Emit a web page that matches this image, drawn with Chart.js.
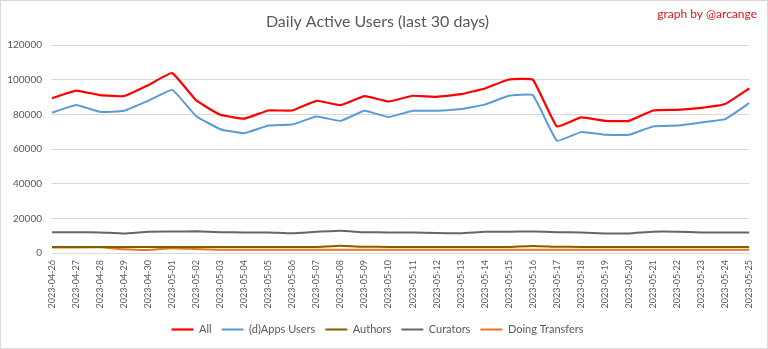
<!DOCTYPE html>
<html>
<head>
<meta charset="utf-8">
<script src="https://cdn.jsdelivr.net/npm/chart.js@4/dist/chart.umd.min.js"></script>
<style>
  html, body { margin: 0; padding: 0; background: #fff; }
  #wrap { position: relative; width: 766px; height: 347px; border: 1px solid #d9d9d9; }
</style>
</head>
<body>
<div id="wrap"><canvas id="Graph" width="766" height="347"></canvas></div>
<script>
let canvas = document.getElementById("Graph");

const days = [
  '2023-04-26', '2023-04-27', '2023-04-28', '2023-04-29', '2023-04-30', '2023-05-01',
  '2023-05-02', '2023-05-03', '2023-05-04', '2023-05-05', '2023-05-06', '2023-05-07',
  '2023-05-08', '2023-05-09', '2023-05-10', '2023-05-11', '2023-05-12', '2023-05-13',
  '2023-05-14', '2023-05-15', '2023-05-16', '2023-05-17', '2023-05-18', '2023-05-19',
  '2023-05-20', '2023-05-21', '2023-05-22', '2023-05-23', '2023-05-24', '2023-05-25'
];

const allUsers = [89400, 93800, 91200, 90600, 96900, 103900, 88100, 79800, 77600, 82300,
  82300, 87900, 85400, 90600, 87500, 90800, 90200, 91700, 95000, 100200,
  100100, 73100, 78300, 76300, 76300, 82300, 82700, 83800, 86000, 95000];
const appsUsers = [81000, 85400, 81500, 82100, 87900, 94200, 79000, 71500, 69200, 73600,
  74200, 78800, 76300, 82100, 78500, 82100, 82100, 83100, 85700, 90800,
  91200, 64800, 69800, 68300, 68300, 73100, 73600, 75400, 77300, 86600];
const authors = [3500, 3500, 3500, 3400, 3400, 3500, 3500, 3500, 3500, 3500,
  3500, 3500, 4200, 3600, 3500, 3500, 3500, 3500, 3500, 3500,
  4100, 3600, 3500, 3500, 3500, 3500, 3500, 3500, 3500, 3500];
const curators = [12000, 12000, 11900, 11300, 12300, 12400, 12500, 12000, 11900, 11900,
  11400, 12200, 12800, 12000, 11900, 11900, 11500, 11400, 12200, 12300,
  12400, 12000, 11900, 11300, 11300, 12300, 12300, 11900, 11900, 11900];
const transfers = [3200, 3200, 3300, 2100, 1700, 2800, 2300, 1900, 1900, 1900,
  1900, 1900, 1900, 1900, 1900, 1900, 1900, 1900, 1900, 1900,
  1900, 1900, 1900, 1900, 1900, 1900, 1900, 1900, 1900, 1900];

const yTicks = [0, 20000, 40000, 60000, 80000, 100000, 120000];

const textColor = '#595959';

// "graph by" signature, top right
const signature = {
  id: 'signature',
  afterDraw(chart) {
    const c = chart.ctx;
    c.save();
    c.font = '12px Lato';
    c.fillStyle = '#d0191e';
    c.textAlign = 'right';
    c.textBaseline = 'middle';
    c.fillText('graph by @arcange', 756, 13);
    c.restore();
  }
};

function line(label, values, color, width) {
  return {
    label: label,
    data: values,
    borderColor: color,
    backgroundColor: color,
    borderWidth: width,
    pointRadius: 0,
    tension: 0.1
  };
}

const config = {
  type: 'line',
  data: {
    labels: days,
    datasets: [
      line('All', allUsers, '#ff0000', 2.2),
      line('(d)Apps Users', appsUsers, '#5b9bd5', 2),
      line('Authors', authors, '#7f6000', 2),
      line('Curators', curators, '#666666', 2),
      line('Doing Transfers', transfers, '#f0711c', 2)
    ]
  },
  options: {
    responsive: false,
    animation: false,
    layout: { padding: { left: 0, right: 13, top: 0, bottom: 3 } },
    plugins: {
      title: {
        display: true,
        text: 'Daily Active Users (last 30 days)',
        color: textColor,
        font: { family: 'Lato', size: 16, weight: 'normal' },
        padding: { top: 11, bottom: 14 }
      },
      legend: {
        position: 'bottom',
        labels: {
          color: textColor,
          font: { family: 'Lato', size: 11 },
          usePointStyle: true,
          pointStyleWidth: 22,
          boxWidth: 22,
          pointStyle: 'line',
          padding: 10
        }
      },
      tooltip: { enabled: false }
    },
    scales: {
      x: {
        afterFit(scale) { scale.height = 61; },
        grid: { display: false, drawTicks: false },
        border: { color: '#d9d9d9' },
        ticks: {
          color: textColor,
          font: { family: 'Lato', size: 9 },
          minRotation: 90,
          maxRotation: 90,
          autoSkip: false,
          padding: 7
        }
      },
      y: {
        min: 0,
        max: 120000,
        afterBuildTicks(scale) {
          scale.ticks = yTicks.map(v => ({ value: v }));
        },
        afterFit(scale) { scale.width = 51; },
        grid: { color: '#d9d9d9', drawTicks: false },
        border: { display: false },
        ticks: {
          color: textColor,
          font: { family: 'Lato', size: 10 },
          padding: 10,
          callback: v => String(v)
        }
      }
    }
  },
  plugins: [signature]
};

const chart = new Chart(canvas, config);
</script>
</body>
</html>
